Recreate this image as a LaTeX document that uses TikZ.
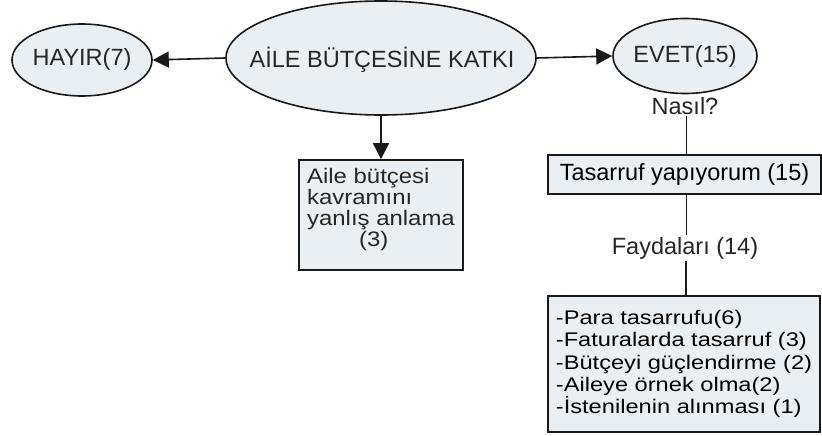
\documentclass[tikz,border=0pt]{standalone}
\usepackage{fontspec}
\setmainfont{Liberation Sans}
\newfontfamily\widelist[FakeStretch=1.2]{Liberation Sans}
\newfontfamily\widebox[FakeStretch=1.14]{Liberation Sans}
\usetikzlibrary{shapes.geometric,arrows.meta}
\definecolor{boxfill}{RGB}{233,239,243}
\definecolor{edge}{RGB}{25,25,25}
\begin{document}
\begin{tikzpicture}[x=1pt,y=-1pt,
  font=\fontsize{23.5}{27}\selectfont,
  oval/.style={ellipse,draw=edge,line width=1.6pt,fill=boxfill,inner sep=0pt},
  rbox/.style={rectangle,draw=edge,line width=1.6pt,fill=boxfill,inner sep=0pt},
  lbl/.style={inner sep=1.5pt,text=black!85},
  conn/.style={draw=edge,line width=1.6pt},
  arr/.style={conn,-{Triangle[length=16pt,width=16pt]}}]
\useasboundingbox (0,0) rectangle (822,436);
\fill[white] (0,0) rectangle (822,436);

% ellipses
\node[oval,minimum width=140,minimum height=72] (hayir) at (82,60) {};
\node[lbl] (hayirtxt) at (82,59) {HAYIR(7)};
\node[oval,minimum width=310,minimum height=114] (katki) at (381,58) {};
\node[lbl] (katkitxt) at (382,60) {AİLE BÜTÇESİNE KATKI};
\node[oval,minimum width=144,minimum height=75] (evet) at (685,56) {};
\node[lbl] (evettxt) at (685,56) {EVET(15)};

% left branch
\node[rbox,minimum width=164,minimum height=110] (aile) at (381,215) {};
\node[lbl,align=left,font=\widebox\fontsize{21}{21}\selectfont] (ailetxt) at (381,210)
  {Aile bütçesi\\kavramını\\yanlış anlama\\\hspace*{52pt}(3)};

% right branch
\node[lbl] (nasil) at (685,106) {Nasıl?};
\node[rbox,minimum width=273,minimum height=39] (tas) at (684.5,174.5) {Tasarruf yapıyorum (15)};
\node[lbl] (fayda) at (685,248) {Faydaları (14)};
\node[rbox,minimum width=272,minimum height=136,align=left,
      font=\widelist\fontsize{19.7}{22.3}\selectfont] (liste) at (684,364)
  {-Para tasarrufu(6)\\-Faturalarda tasarruf (3)\\-Bütçeyi güçlendirme (2)\\-Aileye örnek olma(2)\\-İstenilenin alınması (1)};

% connectors
\draw[arr] (katki.west) -- (hayir.east);
\draw[arr] (katki.east) -- (evet.west);
\draw[arr] (katki.south) -- (aile.north);
\draw[conn] (nasil.south -| tas.north) ++(2,0) -- ([xshift=2pt]tas.north);
\draw[conn] ([xshift=2pt]tas.south) -- ([xshift=2pt]tas.south |- fayda.north);
\draw[conn] ([xshift=2pt]liste.north |- fayda.south) -- ([xshift=2pt]liste.north);
\end{tikzpicture}
\end{document}
